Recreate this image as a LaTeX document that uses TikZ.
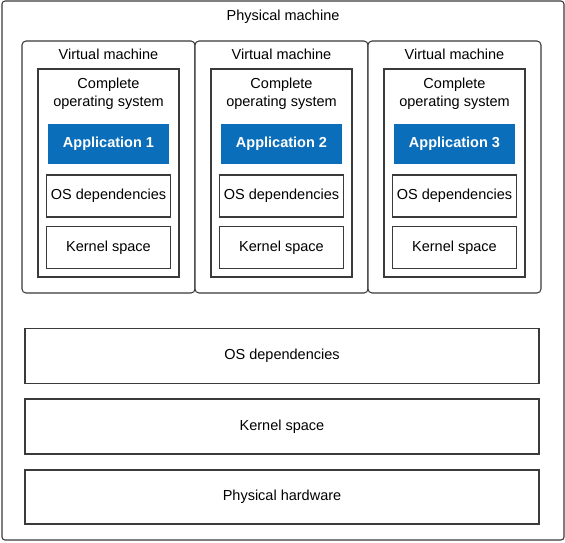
\documentclass[tikz,border=0pt]{standalone}
\usepackage{fontspec}
\setmainfont{Liberation Sans}

\definecolor{appblue}{HTML}{0B6EBA}
\definecolor{edge}{HTML}{3A3A3A}

\tikzset{
  box/.style={draw=edge,line width=1.05pt,fill=white,inner sep=0pt},
  vmbox/.style={box,rounded corners=4pt},
  appbox/.style={fill=appblue,inner sep=0pt,text=white,font=\fontsize{14.5}{17}\selectfont\bfseries},
  lbl/.style={font=\fontsize{14.5}{18}\selectfont,align=center,inner sep=0pt}
}

\begin{document}
\begin{tikzpicture}[x=1pt,y=-1pt]

\useasboundingbox (0,0) rectangle (565,542);

%=================================================
% PHYSICAL MACHINE
%=================================================

\node[vmbox,rounded corners=3pt,minimum width=562pt,minimum height=539pt]
(pm) at (283,270.5) {};

\node[lbl]
(pmtitle) at (283,16.5)
{Physical machine};

%=================================================
% VIRTUAL MACHINES
%=================================================

\foreach \i in {1,2,3}
{
\node[vmbox,minimum width=173pt,minimum height=252pt]
(vm\i) at ({108.5+173*(\i-1)},167) {};

\node[lbl]
(vmtitle\i) at ({108.5+173*(\i-1)},54)
{Virtual machine};

\node[box,minimum width=141pt,minimum height=208pt]
(os\i) at ({108.5+173*(\i-1)},173) {};

\node[lbl]
(ostitle\i) at ({108.5+173*(\i-1)},93.5)
{Complete\\operating system};

\node[appbox,minimum width=121pt,minimum height=40pt]
(app\i) at ({108.5+173*(\i-1)},143.5)
{Application \i};

\node[box,lbl,minimum width=124pt,minimum height=42pt]
(dep\i) at ({108.5+173*(\i-1)},196)
{OS dependencies};

\node[box,lbl,minimum width=124pt,minimum height=42pt]
(ker\i) at ({108.5+173*(\i-1)},247.5)
{Kernel space};
}

%=================================================
% HOST LAYERS
%=================================================

\node[box,lbl,minimum width=514pt,minimum height=55pt]
(hostdep) at (282,356)
{OS dependencies};

\node[box,lbl,minimum width=514pt,minimum height=55pt]
(hostker) at (282,426.5)
{Kernel space};

\node[box,lbl,minimum width=514pt,minimum height=54pt]
(hw) at (282,497)
{Physical hardware};

\end{tikzpicture}
\end{document}
